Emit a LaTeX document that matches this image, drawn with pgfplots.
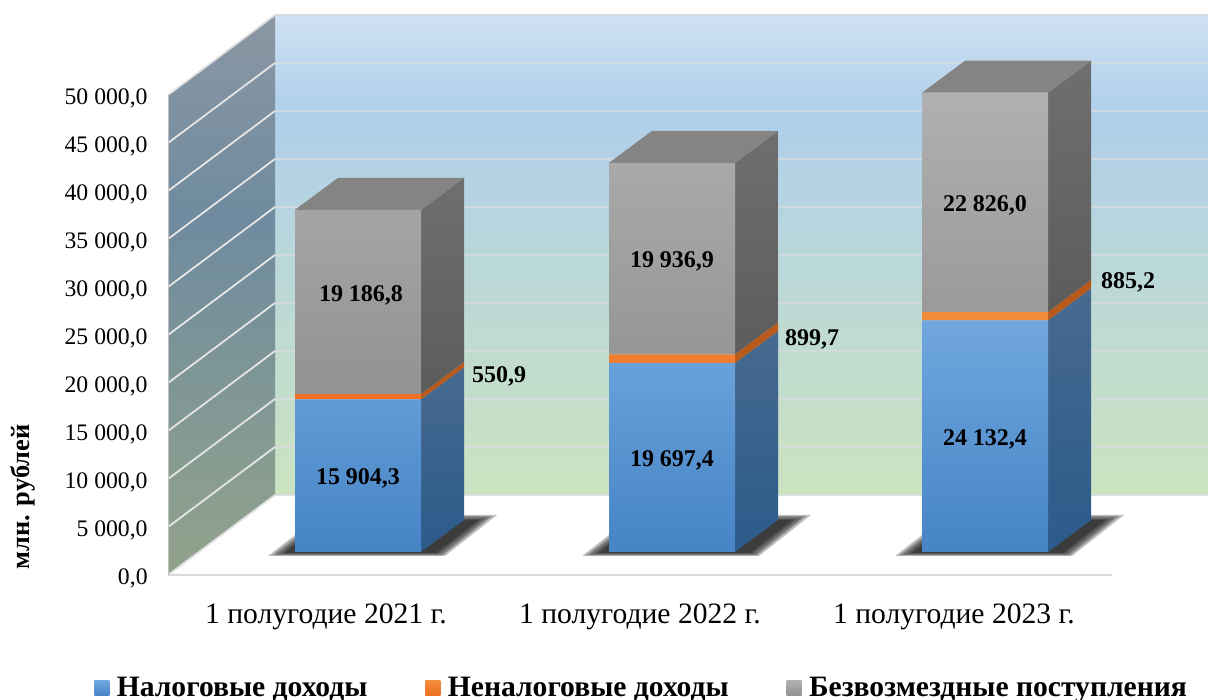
\documentclass[border=0pt]{standalone}
\usepackage{fontspec}
\setmainfont{Liberation Serif}
\usepackage{pgfplots}
\pgfplotsset{compat=1.18}
\definecolor{wallA}{HTML}{CFE1F3}
\definecolor{wallB}{HTML}{AFCFEB}
\definecolor{wallC}{HTML}{CBE3C0}
\definecolor{lwA}{HTML}{8B97A3}
\definecolor{lwB}{HTML}{6F8B9F}
\definecolor{lwC}{HTML}{92A38B}
\definecolor{blueT}{HTML}{70A7DE}
\definecolor{blueB}{HTML}{4684C6}
\definecolor{orT}{HTML}{F38B3C}
\definecolor{orB}{HTML}{EE7023}
\definecolor{grT}{HTML}{B0B0B0}
\definecolor{grB}{HTML}{929292}
\definecolor{sbT}{HTML}{486A90}
\definecolor{sbB}{HTML}{2B5A8A}
\definecolor{sgT}{HTML}{6F6F6F}
\definecolor{sgB}{HTML}{5C5C5C}
\definecolor{sor}{HTML}{B85A1C}
\definecolor{topf}{HTML}{848484}
\definecolor{gridb}{HTML}{D6DCDF}
\pgfplotsset{
  base/.style={
    scale only axis, width=520pt, height=280.5pt,
    at={(84pt,62.5pt)}, anchor=south west,
    xmin=168, xmax=1208, ymin=0, ymax=58437.5,
    clip=false,
  }
}
\newcommand{\lbl}{\fontsize{12}{14}\selectfont\bfseries}
\newcommand{\shadowlayers}[1]{%
\addplot[draw=none,fill=black,fill opacity=.25,xshift=#1] coordinates {(268,1979)(295,4167)(464,6250)(497,6250)(445,1979)} -- cycle;
\addplot[draw=none,fill=black,fill opacity=.25,xshift=#1] coordinates {(272,2057)(295,3906)(464,6120)(492,6120)(443,2057)} -- cycle;
\addplot[draw=none,fill=black,fill opacity=.25,xshift=#1] coordinates {(276,2135)(295,3646)(464,5990)(488,5990)(441,2135)} -- cycle;
\addplot[draw=none,fill=black,fill opacity=.25,xshift=#1] coordinates {(281,2214)(295,3385)(464,5859)(483,5859)(438,2214)} -- cycle;
\addplot[draw=none,fill=black,fill opacity=.25,xshift=#1] coordinates {(285,2292)(295,3125)(464,5729)(478,5729)(436,2292)} -- cycle;
}
\begin{document}
\begin{tikzpicture}
\useasboundingbox (0,0) rectangle (604pt,350pt);
\begin{axis}[base,
  axis line style={draw=none}, major tick length=0pt,
  xtick={326,640,954},
  xticklabels={1 полугодие 2021 г.,1 полугодие 2022 г.,1 полугодие 2023 г.},
  xticklabel style={font=\fontsize{14.8}{17}\selectfont, yshift=-10.7pt},
  ytick={0,5000,10000,15000,20000,25000,30000,35000,40000,45000,50000},
  yticklabels={{0,0},{5 000,0},{10 000,0},{15 000,0},{20 000,0},{25 000,0},{30 000,0},{35 000,0},{40 000,0},{45 000,0},{50 000,0}},
  yticklabel style={font=\fontsize{11.85}{14}\selectfont, inner sep=0pt, xshift=-10pt, yshift=-1.6pt},
  ylabel={\bfseries млн. рублей},
  every axis y label/.style={at={(axis cs:23,8125)},rotate=90,anchor=center,font=\fontsize{13.2}{15}\selectfont},
]
% back wall
\addplot[draw=none,top color=wallA,bottom color=wallB] coordinates {(275,58333)(1208,58333)(1208,48333)(275,48333)} -- cycle;
\addplot[draw=none,top color=wallB,bottom color=wallC] coordinates {(275,48333)(1208,48333)(1208,8333)(275,8333)} -- cycle;
% left wall
\addplot[draw=none,top color=lwA,bottom color=lwB] coordinates {(168,36979)(275,36979)(275,58333)(168,50000)} -- cycle;
\addplot[draw=none,top color=lwB,bottom color=lwC] coordinates {(168,0)(275,8333)(275,36979)(168,36979)} -- cycle;
% grid
\addplot[gridb,line width=.9pt,opacity=.8] coordinates {(275,58333)(1208,58333)};
\addplot[gridb,line width=.9pt,opacity=.8] coordinates {(275,53333)(1208,53333)};
\addplot[gridb,line width=.9pt,opacity=.8] coordinates {(275,48333)(1208,48333)};
\addplot[gridb,line width=.9pt,opacity=.8] coordinates {(275,43333)(1208,43333)};
\addplot[gridb,line width=.9pt,opacity=.8] coordinates {(275,38333)(1208,38333)};
\addplot[gridb,line width=.9pt,opacity=.8] coordinates {(275,33333)(1208,33333)};
\addplot[gridb,line width=.9pt,opacity=.8] coordinates {(275,28333)(1208,28333)};
\addplot[gridb,line width=.9pt,opacity=.8] coordinates {(275,23333)(1208,23333)};
\addplot[gridb,line width=.9pt,opacity=.8] coordinates {(275,18333)(1208,18333)};
\addplot[gridb,line width=.9pt,opacity=.8] coordinates {(275,13333)(1208,13333)};
\addplot[gridb,line width=.9pt,opacity=.8] coordinates {(275,8333)(1208,8333)};
\addplot[white!88!black,line width=.9pt] coordinates {(168,50000)(275,58333)};
\addplot[white!90!black,line width=.9pt] coordinates {(168,45000)(275,53333)};
\addplot[white!90!black,line width=.9pt] coordinates {(168,40000)(275,48333)};
\addplot[white!90!black,line width=.9pt] coordinates {(168,35000)(275,43333)};
\addplot[white!90!black,line width=.9pt] coordinates {(168,30000)(275,38333)};
\addplot[white!90!black,line width=.9pt] coordinates {(168,25000)(275,33333)};
\addplot[white!90!black,line width=.9pt] coordinates {(168,20000)(275,28333)};
\addplot[white!90!black,line width=.9pt] coordinates {(168,15000)(275,23333)};
\addplot[white!90!black,line width=.9pt] coordinates {(168,10000)(275,18333)};
\addplot[white!90!black,line width=.9pt] coordinates {(168,5000)(275,13333)};
\addplot[white!88!black,line width=.9pt] coordinates {(168,0)(275,8333)};
\addplot[white!85!black,line width=.9pt] coordinates {(168,0)(1112,0)};
\addplot[white!75!black,line width=.4pt] coordinates {(168,0)(168,50000)};
% floor shadows
\shadowlayers{0pt}
\shadowlayers{157pt}
\shadowlayers{313.5pt}
% bar 1 side and top
\addplot[draw=none,top color=sbT,bottom color=sbB] coordinates {(421,2395.8)(464,5729.1)(464,21633.4)(421,18300.1)} -- cycle;
\addplot[draw=none,fill=sor] coordinates {(421,18300.1)(464,21633.4)(464,22184.3)(421,18851.0)} -- cycle;
\addplot[draw=none,top color=sgT,bottom color=sgB] coordinates {(421,18851.0)(464,22184.3)(464,41371.1)(421,38037.8)} -- cycle;
\addplot[draw=none,fill=topf] coordinates {(295,38037.8)(421,38037.8)(464,41371.1)(338,41371.1)} -- cycle;
% bar 2
\addplot[draw=none,top color=sbT,bottom color=sbB] coordinates {(735,2395.8)(778,5729.1)(778,25426.5)(735,22093.2)} -- cycle;
\addplot[draw=none,fill=sor] coordinates {(735,22093.2)(778,25426.5)(778,26326.2)(735,22992.9)} -- cycle;
\addplot[draw=none,top color=sgT,bottom color=sgB] coordinates {(735,22992.9)(778,26326.2)(778,46263.1)(735,42929.8)} -- cycle;
\addplot[draw=none,fill=topf] coordinates {(609,42929.8)(735,42929.8)(778,46263.1)(652,46263.1)} -- cycle;
% bar 3
\addplot[draw=none,top color=sbT,bottom color=sbB] coordinates {(1048,2395.8)(1091,5729.1)(1091,29861.5)(1048,26528.2)} -- cycle;
\addplot[draw=none,fill=sor] coordinates {(1048,26528.2)(1091,29861.5)(1091,30746.7)(1048,27413.4)} -- cycle;
\addplot[draw=none,top color=sgT,bottom color=sgB] coordinates {(1048,27413.4)(1091,30746.7)(1091,53572.7)(1048,50239.4)} -- cycle;
\addplot[draw=none,fill=topf] coordinates {(922,50239.4)(1048,50239.4)(1091,53572.7)(965,53572.7)} -- cycle;
\end{axis}
\begin{axis}[base, hide axis, ybar stacked, bar width=63pt,
  legend columns=3,
  legend style={at={(-0.0769,-0.2014)},anchor=west,draw=none,fill=none,
    font=\fontsize{14.8}{17}\selectfont\bfseries,
    /tikz/every even column/.append style={column sep=29pt},
    nodes={inner sep=0pt,anchor=west}},
  legend image code/.code={\path[#1] (0pt,-3.8pt) rectangle (7.5pt,3.8pt);},
  legend cell align=left,
]
\addplot[forget plot,draw=none,fill=none] coordinates {(358,2395.8)(672,2395.8)(985,2395.8)};
\addplot[draw=none,top color=blueT,bottom color=blueB] coordinates {(358,15904.3)(672,19697.4)(985,24132.4)};
\addlegendentry{\hspace{3.7pt}Налоговые доходы}
\addplot[draw=none,top color=orT,bottom color=orB] coordinates {(358,550.9)(672,899.7)(985,885.2)};
\addlegendentry{\hspace{3.7pt}Неналоговые доходы}
\addplot[draw=none,top color=grT,bottom color=grB] coordinates {(358,19186.8)(672,19936.9)(985,22826.0)};
\addlegendentry{\hspace{3.7pt}Безвозмездные поступления}
\end{axis}
\begin{axis}[base, hide axis]
\node[font=\lbl] at (axis cs:361,29167) {19 186,8};
\node[font=\lbl] at (axis cs:358,10104) {15 904,3};
\node[font=\lbl] at (axis cs:499,20729) {550,9};
\node[font=\lbl] at (axis cs:672,32709) {19 936,9};
\node[font=\lbl] at (axis cs:672,11979) {19 697,4};
\node[font=\lbl] at (axis cs:812,24583) {899,7};
\node[font=\lbl] at (axis cs:985,38542) {22 826,0};
\node[font=\lbl] at (axis cs:985,14167) {24 132,4};
\node[font=\lbl] at (axis cs:1128,30521) {885,2};
\end{axis}
\end{tikzpicture}
\end{document}
